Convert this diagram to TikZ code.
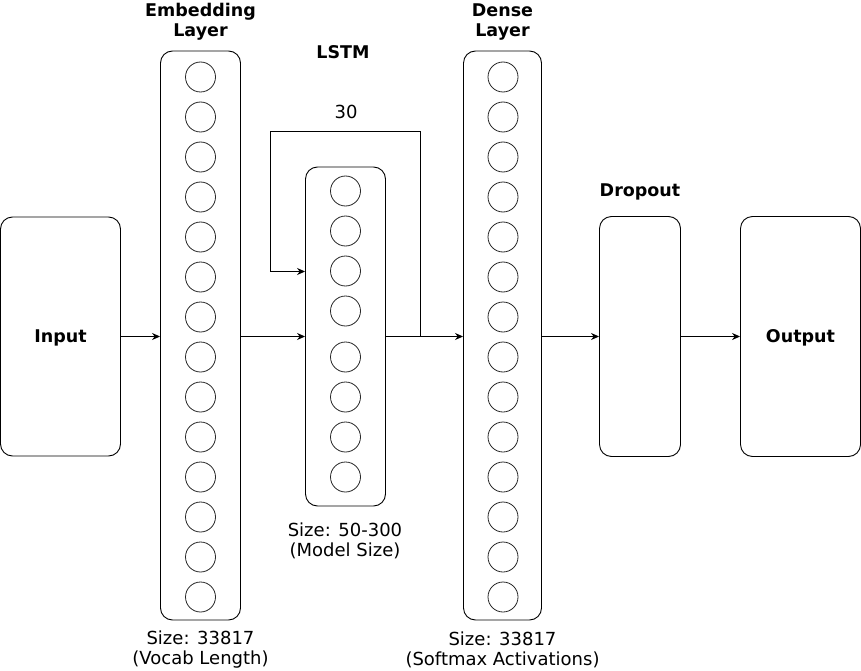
\documentclass[tikz,border=0pt]{standalone}
\usepackage{fontspec}
\setmainfont{DejaVu Sans}
\usetikzlibrary{arrows.meta}
\begin{document}
\begin{tikzpicture}[x=1pt,y=-1pt,
  box/.style={draw,line width=0.9pt,rounded corners=12pt,inner sep=0pt},
  neuron/.style={draw=black!85,line width=0.8pt,circle,minimum size=30pt,inner sep=0pt},
  ttl/.style={font=\fontsize{17.5}{20}\selectfont\bfseries,align=center,inner sep=0pt},
  lbl/.style={font=\fontsize{18}{20}\selectfont,align=center,inner sep=0pt},
  conn/.style={line width=0.9pt,-{Stealth[length=8pt,width=7pt]}}]
\useasboundingbox (0,0) rectangle (861,671);
% boxes
\node[box,minimum width=120pt,minimum height=239pt] (input) at (60.5,336.5) {};
\node[ttl,anchor=base] at ([yshift=-6pt]input.center) {Input};
\node[box,minimum width=80pt,minimum height=569pt] (emb) at (200.5,335.5) {};
\node[box,minimum width=80pt,minimum height=339pt] (lstm) at (345.5,336.5) {};
\node[box,minimum width=78pt,minimum height=569pt] (dense) at (502.5,335.5) {};
\node[box,minimum width=81pt,minimum height=240pt] (drop) at (640,336.5) {};
\node[box,minimum width=120pt,minimum height=240pt] (out) at (800.5,336.5) {};
\node[ttl,anchor=base] at ([yshift=-6pt]out.center) {Output};
% neurons
\foreach \i in {0,...,13} {
  \node[neuron] (e\i) at (200.5,{77+40*\i}) {};
  \node[neuron] (d\i) at (503,{77+40*\i}) {};
}
\foreach \y [count=\i] in {191,231,271,311,357,397,437,477} {
  \node[neuron] (l\i) at (345.5,\y) {};
}
% titles
\node[ttl] (embt) at (200.5,22) {Embedding\\Layer};
\node[ttl] (lstmt) at (343,52) {LSTM};
\node[ttl] (denset) at (502.5,22) {Dense\\Layer};
\node[ttl,anchor=base] (dropt) at (640,196) {Dropout};
\node[lbl] (thirty) at (346,112) {30};
\node[lbl] (embs) at (200.5,650) {Size: 33817\\(Vocab Length)};
\node[lbl] (lstms) at (345,541) {Size: 50-300\\(Model Size)};
\node[lbl] (denses) at (502.5,650) {Size: 33817\\(Softmax Activations)};
% connectors
\coordinate (split) at (420.5,336.5);
\coordinate (tr) at (420.5,131.5);
\coordinate (tl) at (270.5,131.5);
\coordinate (bl) at (270.5,271.5);
\draw[conn] (input.east) -- (emb.west |- input.east);
\draw[conn] (emb.east |- input.east) -- (lstm.west |- input.east);
\draw[conn] (lstm.east |- input.east) -- (dense.west |- input.east);
\draw[line width=0.9pt] (split) -- (tr) -- (tl) -- (bl);
\draw[conn] (bl) -- (lstm.west |- bl);
\draw[conn] (dense.east |- input.east) -- (drop.west);
\draw[conn] (drop.east) -- (out.west);
\end{tikzpicture}
\end{document}
